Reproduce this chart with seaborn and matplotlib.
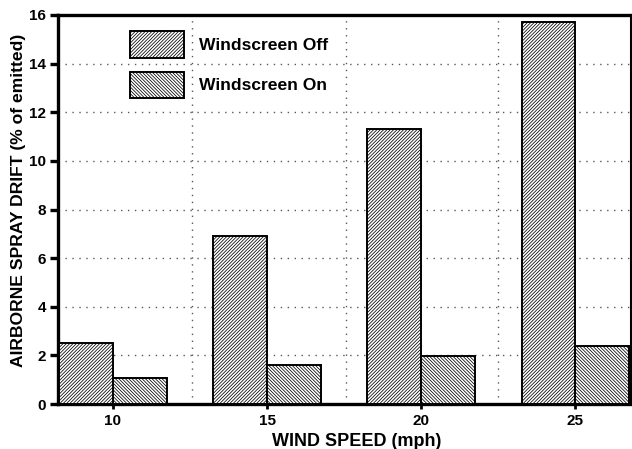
import matplotlib
matplotlib.use("Agg")
import matplotlib.pyplot as plt
import matplotlib.patches as mpatches
import seaborn as sns
import pandas as pd

wind_speed = [10, 15, 20, 25]
screen_off = [2.5, 6.9, 11.3, 15.7]
screen_on = [1.05, 1.6, 1.98, 2.4]
series_names = ["Windscreen Off", "Windscreen On"]
y_ticks = [0, 2, 4, 6, 8, 10, 12, 14, 16]

df = pd.DataFrame({
    "speed": wind_speed * 2,
    "drift": screen_off + screen_on,
    "screen": [series_names[0]] * 4 + [series_names[1]] * 4,
})

sns.set_theme(style="white")
plt.rcParams['font.family'] = ['Liberation Sans', 'DejaVu Sans']
plt.rcParams['font.weight'] = 'bold'
plt.rcParams['text.color'] = 'black'
plt.rcParams['axes.labelcolor'] = 'black'
plt.rcParams['xtick.color'] = 'black'
plt.rcParams['ytick.color'] = 'black'
plt.rcParams['hatch.linewidth'] = 0.55

fig = plt.figure(figsize=(6.32, 4.49), dpi=100)
ax = fig.add_axes([58 / 632, 45 / 449, 573 / 632, 389 / 449])

sns.barplot(data=df, x="speed", y="drift", hue="screen", native_scale=True,
            width=0.7, palette=["white", "white"], edgecolor="black",
            linewidth=1.4, saturation=1, legend=False, ax=ax, zorder=3)

hatches = ["//////////", "\\\\\\\\\\\\\\\\\\\\"]
for cont, h in zip(ax.containers, hatches):
    for p in cont:
        p.set_hatch(h)

ax.set_xlim(8.22, 26.8)
ax.set_ylim(0, 16)
ax.set_xticks(wind_speed)
ax.set_yticks(y_ticks)
ax.set_xticks([12.55, 17.55, 22.5], minor=True)
ax.grid(False)
ax.grid(True, axis="y", which="major", linestyle=(0, (1, 4)), color="0.35", linewidth=1.0)
ax.grid(True, axis="x", which="minor", linestyle=(0, (1, 4)), color="0.35", linewidth=1.0)
ax.set_axisbelow(True)

for s in ["left", "bottom", "top"]:
    ax.spines[s].set_linewidth(2.4)
    ax.spines[s].set_color("black")
ax.spines["right"].set_linewidth(1.5)
ax.spines["right"].set_color("black")

ax.tick_params(axis="y", which="major", direction="out", length=6, width=2.4,
               color="black", labelsize=11, pad=2.5, left=True)
ax.tick_params(axis="x", which="major", direction="out", length=3.5, width=2,
               color="black", labelsize=11, pad=4.0, bottom=True)
ax.tick_params(axis="x", which="minor", length=0)
for lab in ax.get_xticklabels() + ax.get_yticklabels():
    lab.set_fontweight("bold")

ax.set_xlabel("WIND SPEED (mph)", fontsize=13, fontweight="bold")
ax.set_ylabel("AIRBORNE SPRAY DRIFT (% of emitted)", fontsize=12.6, fontweight="bold")
ax.xaxis.label.set_verticalalignment("baseline")
ax.xaxis.set_label_coords((357 - 58) / 573, (404 - 446) / 389)
ax.yaxis.label.set_verticalalignment("center")
ax.yaxis.label.set_horizontalalignment("center")
ax.yaxis.set_label_coords((19 - 58) / 573, (404 - 200) / 389)

handles = [mpatches.Patch(facecolor="white", edgecolor="black", hatch=h, linewidth=1.4)
           for h in hatches]
leg = ax.legend(handles, series_names, loc="upper left", bbox_to_anchor=(0.125, 0.9576),
                frameon=False, fontsize=12.6, handlelength=3.08, handleheight=1.93,
                handletextpad=0.86, labelspacing=0.8, borderpad=0, borderaxespad=0)
for t in leg.get_texts():
    t.set_fontweight("bold")

fig.savefig("out.png", dpi=100)
